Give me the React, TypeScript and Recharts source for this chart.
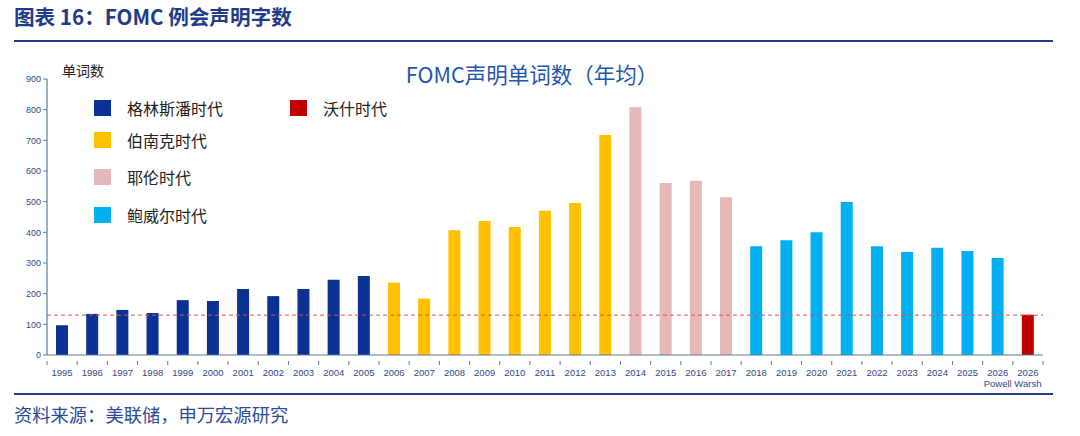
import React from "react";
import { BarChart, Bar, XAxis, YAxis, Cell, ReferenceLine } from "recharts";

const years = [
  "1995", "1996", "1997", "1998", "1999", "2000", "2001", "2002", "2003", "2004", "2005",
  "2006", "2007", "2008", "2009", "2010", "2011", "2012", "2013",
  "2014", "2015", "2016", "2017",
  "2018", "2019", "2020", "2021", "2022", "2023", "2024", "2025", "2026",
  "2026",
];
const subLabels = [
  "", "", "", "", "", "", "", "", "", "", "",
  "", "", "", "", "", "", "", "",
  "", "", "", "",
  "", "", "", "", "", "", "", "", "Powell",
  "Warsh",
];
const wordCounts = [
  97, 134, 147, 137, 179, 176, 215, 192, 215, 245, 258,
  236, 184, 407, 437, 417, 470, 496, 717,
  808, 561, 568, 514,
  355, 374, 400, 499, 355, 336, 350, 339, 316,
  131,
];
const eras = [
  "g", "g", "g", "g", "g", "g", "g", "g", "g", "g", "g",
  "b", "b", "b", "b", "b", "b", "b", "b",
  "y", "y", "y", "y",
  "p", "p", "p", "p", "p", "p", "p", "p", "p",
  "w",
];
const eraNames: Record<string, string> = {
  g: "格林斯潘时代",
  b: "伯南克时代",
  y: "耶伦时代",
  p: "鲍威尔时代",
  w: "沃什时代",
};
const eraColors: Record<string, string> = {
  g: "#0B3194",
  b: "#FFC000",
  y: "#E6B9B8",
  p: "#00B0F0",
  w: "#C00000",
};
const yTicks = [0, 100, 200, 300, 400, 500, 600, 700, 800, 900];
const baseline = 130;

const data = years.map((y, i) => ({
  key: `${y}-${i}`,
  year: y,
  sub: subLabels[i],
  value: wordCounts[i],
  era: eras[i],
}));

const axisColor = "#5E7A96";
const tickColor = "#2E4A8C";
const font = "'Liberation Sans', Arial, sans-serif";
const cjk = "'Noto Sans CJK SC', 'Noto Sans', sans-serif";

const XTick = (props: any) => {
  const { x, y, payload, index } = props;
  const d = data[index] || data.find((e) => e.key === payload.value);
  const half = payload.offset || 15.5;
  const last = index === data.length - 1;
  return (
    <g>
      <line x1={x - half} y1={y - 2} x2={x - half} y2={y + 2} stroke={axisColor} strokeWidth={1} />
      {last && <line x1={x + half} y1={y - 2} x2={x + half} y2={y + 2} stroke={axisColor} strokeWidth={1} />}
      <text x={x} y={y + 13} textAnchor="middle" fontSize={9.5} fill={tickColor} fontFamily={font}>
        {d ? d.year : ""}
      </text>
      {d && d.sub && (
        <text x={x} y={y + 24} textAnchor="middle" fontSize={9.5} fill={tickColor} fontFamily={font}>
          {d.sub}
        </text>
      )}
    </g>
  );
};

const legendLeft = ["g", "b", "y", "p"];
const legendTops = [107.5, 140, 177, 215];

export default function App() {
  return (
    <div style={{ position: "fixed", left: 0, top: 0, width: 1080, height: 436, background: "#fff", overflow: "hidden" }}>
      <div style={{ position: "absolute", left: 14, top: 4, fontFamily: cjk, fontWeight: 700, fontSize: 20.6, color: "#1F3C88", lineHeight: "24px", whiteSpace: "nowrap" }}>
        图表 16：FOMC 例会声明字数
      </div>
      <div style={{ position: "absolute", left: 14, top: 40, width: 1039, height: 2, background: "#1F3C88" }} />
      <div style={{ position: "absolute", left: 14, top: 393, width: 1039, height: 2, background: "#1F3C88" }} />
      <div style={{ position: "absolute", left: 14, top: 402, fontFamily: cjk, fontSize: 18.3, color: "#2B4C9B", lineHeight: "24px", whiteSpace: "nowrap" }}>
        资料来源：美联储，申万宏源研究
      </div>
      <div style={{ position: "absolute", left: 62, top: 60, fontFamily: cjk, fontSize: 14, color: "#222", lineHeight: "20px", whiteSpace: "nowrap" }}>
        单词数
      </div>
      <div style={{ position: "absolute", left: 532, top: 61, transform: "translateX(-50%)", fontFamily: cjk, fontSize: 21.5, color: "#1F55AE", lineHeight: "26px", whiteSpace: "nowrap" }}>
        FOMC声明单词数（年均）
      </div>
      <div style={{ position: "absolute", left: 0, top: 0 }}>
        <BarChart
          width={1080}
          height={436}
          data={data}
          margin={{ top: 79, right: 37, bottom: 0, left: 7 }}
          barCategoryGap={0}
        >
          <XAxis
            dataKey="key"
            height={81}
            axisLine={{ stroke: axisColor, strokeWidth: 1.2 }}
            tickLine={false}
            interval={0}
            tick={<XTick />}
          />
          <YAxis
            domain={[0, 900]}
            ticks={yTicks}
            width={40}
            axisLine={{ stroke: axisColor, strokeWidth: 1.2 }}
            tickLine={{ stroke: axisColor }}
            tickSize={4}
            tick={{ fontSize: 9, fill: tickColor, fontFamily: font }}
            allowDataOverflow
          />
          <Bar dataKey="value" barSize={12} isAnimationActive={false}>
            {data.map((d) => (
              <Cell key={d.key} fill={eraColors[d.era]} />
            ))}
          </Bar>
          <ReferenceLine y={baseline} stroke="#DD4F4C" strokeDasharray="4 3" strokeWidth={1} />
        </BarChart>
      </div>
      {legendLeft.map((k, i) => (
        <div key={k} style={{ position: "absolute", left: 94, top: legendTops[i] - 8, display: "flex", alignItems: "center", height: 16 }}>
          <div style={{ width: 17, height: 16, background: eraColors[k] }} />
          <span style={{ marginLeft: 16, fontFamily: cjk, fontSize: 16, color: "#222", whiteSpace: "nowrap", lineHeight: "16px" }}>{eraNames[k]}</span>
        </div>
      ))}
      <div style={{ position: "absolute", left: 290, top: legendTops[0] - 8, display: "flex", alignItems: "center", height: 16 }}>
        <div style={{ width: 17, height: 16, background: eraColors.w }} />
        <span style={{ marginLeft: 16, fontFamily: cjk, fontSize: 16, color: "#222", whiteSpace: "nowrap", lineHeight: "16px" }}>{eraNames.w}</span>
      </div>
    </div>
  );
}
